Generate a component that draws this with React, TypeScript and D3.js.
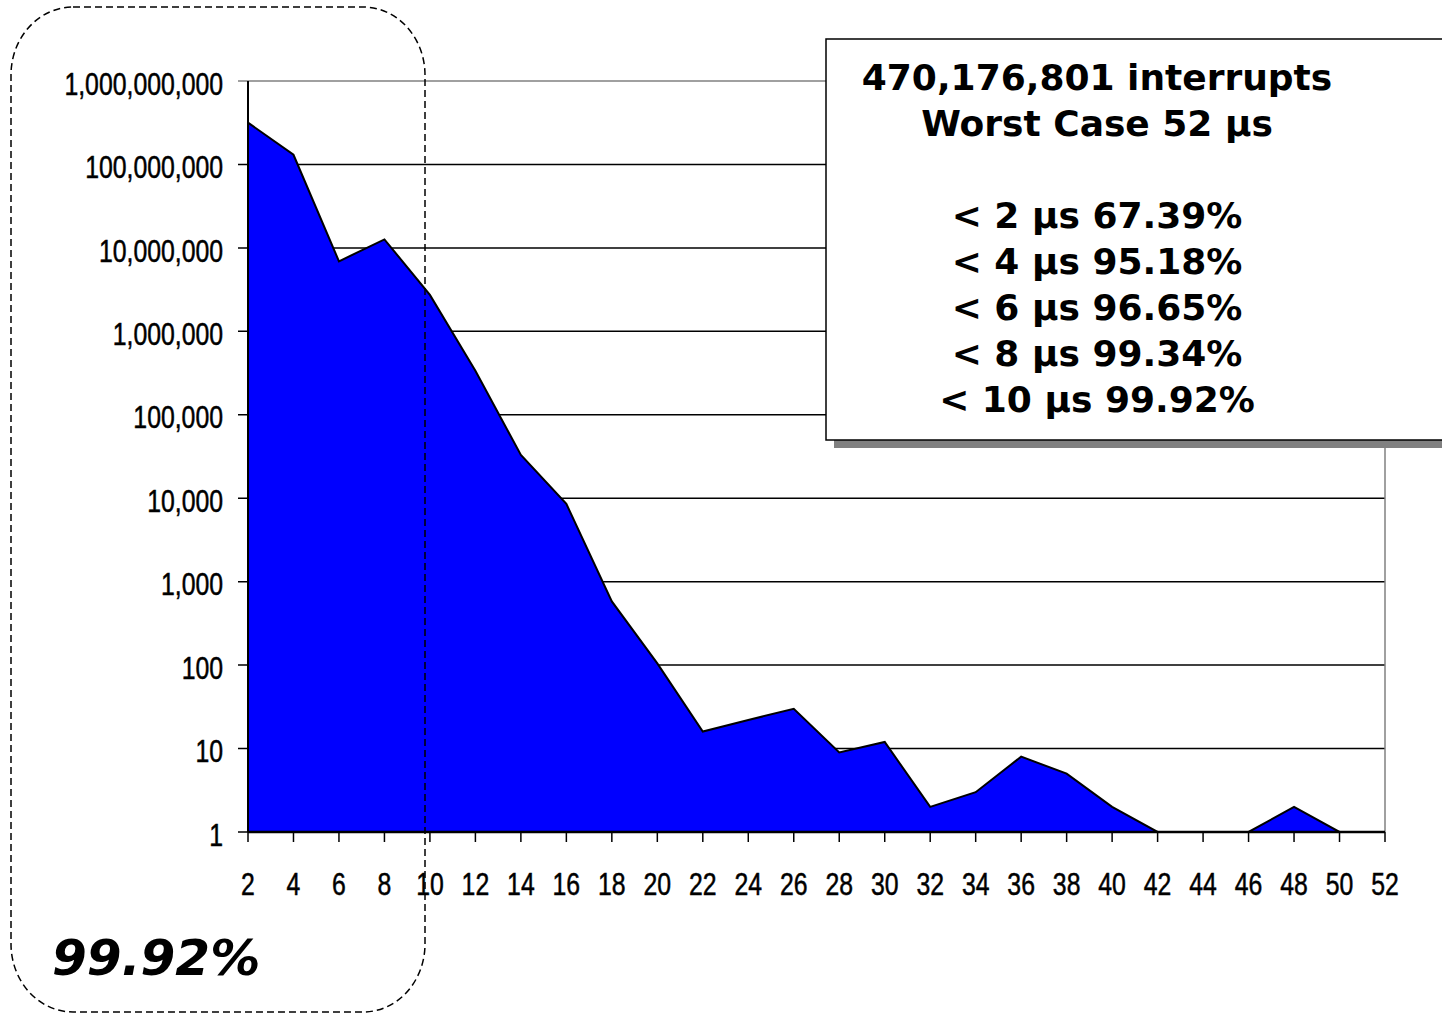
import { useEffect, useRef } from "react";
import * as d3 from "d3";

// latency buckets (µs) and interrupt counts per bucket
const buckets = [2, 4, 6, 8, 10, 12, 14, 16, 18, 20, 22, 24, 26, 28, 30, 32, 34, 36, 38, 40, 42, 44, 46, 48, 50, 52];
const counts = [316900000, 130700000, 6910000, 12650000, 2730000, 336000, 33000, 8550, 580, 105, 16, 22, 30, 9, 12, 2, 3, 8, 5, 2, 1, 1, 1, 2, 1, 1];
const yTicks = [1, 10, 100, 1000, 10000, 100000, 1000000, 10000000, 100000000, 1000000000];
const boxLines = ["470,176,801 interrupts", "Worst Case 52 µs", "", "< 2 µs 67.39%", "< 4 µs 95.18%", "< 6 µs 96.65%", "< 8 µs 99.34%", "< 10 µs 99.92%"];
const highlight = "99.92%";

function App() {
    const ref = useRef<SVGSVGElement>(null);

    useEffect(() => {
        const svg = d3.select(ref.current);
        svg.selectAll("*").remove();

        const left = 248, right = 1385, top = 81, bottom = 832;
        // no narrow font installed, so squeeze Liberation Sans horizontally
        const axisFont = "'Liberation Sans', Arial, sans-serif";
        const squeeze = 0.8;
        const boxFont = "'DejaVu Sans', Verdana, sans-serif";

        const x = d3.scalePoint<number>().domain(buckets).range([left, right]);
        const y = d3.scaleLog().domain([1, 1e9]).range([bottom, top]);

        // gridlines
        svg.append("g")
            .selectAll("line")
            .data(yTicks)
            .enter().append("line")
            .attr("x1", left - 10)
            .attr("x2", right)
            .attr("y1", d => y(d))
            .attr("y2", d => y(d))
            .attr("stroke", d => d === 1e9 ? "#808080" : "#000")
            .attr("stroke-width", 1.5);

        // right border of plot area
        svg.append("line")
            .attr("x1", right).attr("x2", right)
            .attr("y1", top).attr("y2", bottom)
            .attr("stroke", "#808080").attr("stroke-width", 1.5);

        const pts = buckets.map((b, i) => ({ b, v: counts[i] }));

        // area
        svg.append("path")
            .datum(pts)
            .attr("fill", "#0000ff")
            .attr("d", d3.area<{ b: number; v: number }>()
                .x(d => x(d.b)!)
                .y0(y(1))
                .y1(d => y(d.v)));

        svg.append("path")
            .datum(pts)
            .attr("fill", "none")
            .attr("stroke", "#000")
            .attr("stroke-width", 2)
            .attr("d", d3.line<{ b: number; v: number }>()
                .x(d => x(d.b)!)
                .y(d => y(d.v)));

        // y axis
        svg.append("line")
            .attr("x1", left).attr("x2", left)
            .attr("y1", top).attr("y2", bottom)
            .attr("stroke", "#000").attr("stroke-width", 2);

        svg.append("g")
            .selectAll("text")
            .data(yTicks)
            .enter().append("text")
            .attr("transform", d => `translate(223,${y(d)}) scale(${squeeze},1)`)
            .attr("dy", "0.44em")
            .attr("text-anchor", "end")
            .attr("font-family", axisFont)
            .attr("font-size", 31)
            .attr("stroke", "#000")
            .attr("stroke-width", 0.5)
            .text(d => d3.format(",")(d));

        // x axis
        svg.append("line")
            .attr("x1", left).attr("x2", right)
            .attr("y1", bottom).attr("y2", bottom)
            .attr("stroke", "#000").attr("stroke-width", 2.5);

        svg.append("g")
            .selectAll("line")
            .data(buckets)
            .enter().append("line")
            .attr("x1", d => x(d)!).attr("x2", d => x(d)!)
            .attr("y1", bottom).attr("y2", bottom + 10)
            .attr("stroke", "#000").attr("stroke-width", 1.5);

        svg.append("g")
            .selectAll("text")
            .data(buckets)
            .enter().append("text")
            .attr("transform", d => `translate(${x(d)},895) scale(${squeeze},1)`)
            .attr("text-anchor", "middle")
            .attr("font-family", axisFont)
            .attr("font-size", 31)
            .attr("stroke", "#000")
            .attr("stroke-width", 0.5)
            .text(d => d);

        // dashed highlight region
        svg.append("rect")
            .attr("x", 11).attr("y", 7)
            .attr("width", 414).attr("height", 1005)
            .attr("rx", 62).attr("ry", 68)
            .attr("fill", "none")
            .attr("stroke", "#000")
            .attr("stroke-width", 1.5)
            .attr("stroke-dasharray", "7,4");

        svg.append("text")
            .attr("x", 52).attr("y", 975)
            .attr("font-family", boxFont)
            .attr("font-weight", "bold")
            .attr("font-style", "italic")
            .attr("font-size", 50)
            .text(highlight);

        // summary box
        svg.append("rect")
            .attr("x", 834).attr("y", 47)
            .attr("width", 640).attr("height", 401)
            .attr("fill", "#808080");
        svg.append("rect")
            .attr("x", 826).attr("y", 39)
            .attr("width", 640).attr("height", 401)
            .attr("fill", "#fff")
            .attr("stroke", "#000")
            .attr("stroke-width", 1.5);

        svg.append("g")
            .selectAll("text")
            .data(boxLines)
            .enter().append("text")
            .attr("x", 1097)
            .attr("y", (d, i) => 90 + i * 46)
            .attr("text-anchor", "middle")
            .attr("font-family", boxFont)
            .attr("font-weight", "bold")
            .attr("font-size", 36)
            .text(d => d);
    }, []);

    return (
        <div style={{ position: "absolute", left: 0, top: 0 }}>
            <svg ref={ref} width={1442} height={1013} style={{ display: "block", background: "#fff" }}></svg>
        </div>
    );
}

export default App;
